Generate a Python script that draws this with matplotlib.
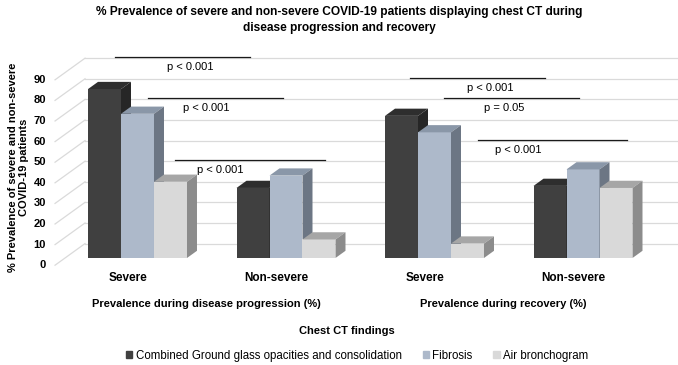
import numpy as np
import matplotlib
matplotlib.use("Agg")
import matplotlib.pyplot as plt
from matplotlib.patches import Polygon, Patch

plt.rcParams['font.family'] = ['Liberation Sans', 'DejaVu Sans']

# data
groups = ['Prevalence during disease progression (%)', 'Prevalence during recovery (%)']
categories = ['Severe', 'Non-severe', 'Severe', 'Non-severe']
series = ['Combined Ground glass opacities and consolidation', 'Fibrosis', 'Air bronchogram']
combined = [82, 34, 69, 35]
fibrosis = [70, 40, 61, 43]
air = [37, 9, 7, 34]
yticks = [0, 10, 20, 30, 40, 50, 60, 70, 80, 90]

# significance brackets: (x start, x end, height, label x, label)
pvals = [(-0.152, 0.758, 97.6, 0.354, 'p < 0.001'),
         (0.074, 0.983, 77.7, 0.461, 'p < 0.001'),
         (0.253, 1.263, 47.6, 0.556, 'p < 0.001'),
         (1.835, 2.744, 87.4, 2.374, 'p < 0.001'),
         (2.064, 2.973, 77.7, 2.468, 'p = 0.05'),
         (2.293, 3.296, 57.3, 2.562, 'p < 0.001')]

# colours: front, top, side
colors = [('#404040', '#2e2e2e', '#262626'),
          ('#adb9ca', '#8a97a8', '#6c7684'),
          ('#d9d9d9', '#a6a6a6', '#8c8c8c')]

W = 0.2222      # bar width
DX = 0.0673     # depth offset in x
DY = 3.5        # depth offset in y
XL = -0.488     # left edge of the floor

fig = plt.figure(figsize=(6.78, 3.65), dpi=100)
ax = fig.add_axes([0, 0.23671, 1, 0.62082])
ax.set_xlim(-0.9259, 3.6397)
ax.set_ylim(-10, 100)
ax.axis('off')

# back wall gridlines
for v in yticks:
    ax.plot([XL - DX, XL + 2 * DX], [v - DY, v + 2 * DY], color='#dadada', lw=0.9, zorder=1)
    ax.plot([XL + 2 * DX, 3.6397], [v + 2 * DY, v + 2 * DY], color='#dadada', lw=0.9, zorder=1)
    ax.text(-0.616, v - DY, str(v), ha='right', va='center', fontsize=8, fontweight='bold')

x = np.arange(len(categories))
vals = [combined, fibrosis, air]
z = 2
for g in range(len(categories)):
    for i in range(3):
        fc, tc, sc = colors[i]
        x0 = x[g] + (i - 1) * W - W / 2
        x1 = x0 + W
        v = vals[i][g]
        ax.bar(x0, v, width=W, align='edge', color=fc, lw=0, zorder=z)
        top = Polygon([(x0, v), (x1, v), (x1 + DX, v + DY), (x0 + DX, v + DY)],
                      closed=True, fc=tc, lw=0, zorder=z)
        side = Polygon([(x1, 0), (x1 + DX, DY), (x1 + DX, v + DY), (x1, v)],
                       closed=True, fc=sc, lw=0, zorder=z)
        ax.add_patch(top)
        ax.add_patch(side)
        z += 1

for g in range(len(categories)):
    ax.text(x[g] - DX, -9.9, categories[g], ha='center', va='center',
            fontsize=8.5, fontweight='bold')

ax.text(0.461, -22.3, groups[0], ha='center', va='center', fontsize=8, fontweight='bold')
ax.text(2.465, -22.3, groups[1], ha='center', va='center', fontsize=8, fontweight='bold')

for xa, xb, h, xt, lab in pvals:
    ax.plot([xa, xb], [h, h], color='#1a1a1a', lw=0.9, zorder=50)
    ax.text(xt, h - 4.9, lab, ha='center', va='center', fontsize=8, zorder=50)

fig.text(0.512, 1 - 331 / 365, 'Chest CT findings', ha='center', va='center',
         fontsize=8, fontweight='bold')

fig.text(0.5, 1 - 6 / 365,
         '% Prevalence of severe and non-severe COVID-19 patients displaying chest CT during\n'
         'disease progression and recovery',
         ha='center', va='top', fontsize=8.6, fontweight='bold', linespacing=1.5)
fig.text(0.012, 1 - 167 / 365, '% Prevalence of severe and non-severe\nCOVID-19 patients',
         ha='left', va='center', rotation=90, fontsize=8, fontweight='bold',
         multialignment='center', linespacing=1.15)

handles = [Patch(color=colors[i][0]) for i in range(3)]
fig.legend(handles, series, loc='center', bbox_to_anchor=(0.527, 1 - 356 / 365), ncol=3,
           frameon=False, fontsize=8.3, handlelength=0.55, handleheight=0.55,
           handletextpad=0.3, columnspacing=1.8, borderpad=0)

fig.savefig('out.png', dpi=100)
